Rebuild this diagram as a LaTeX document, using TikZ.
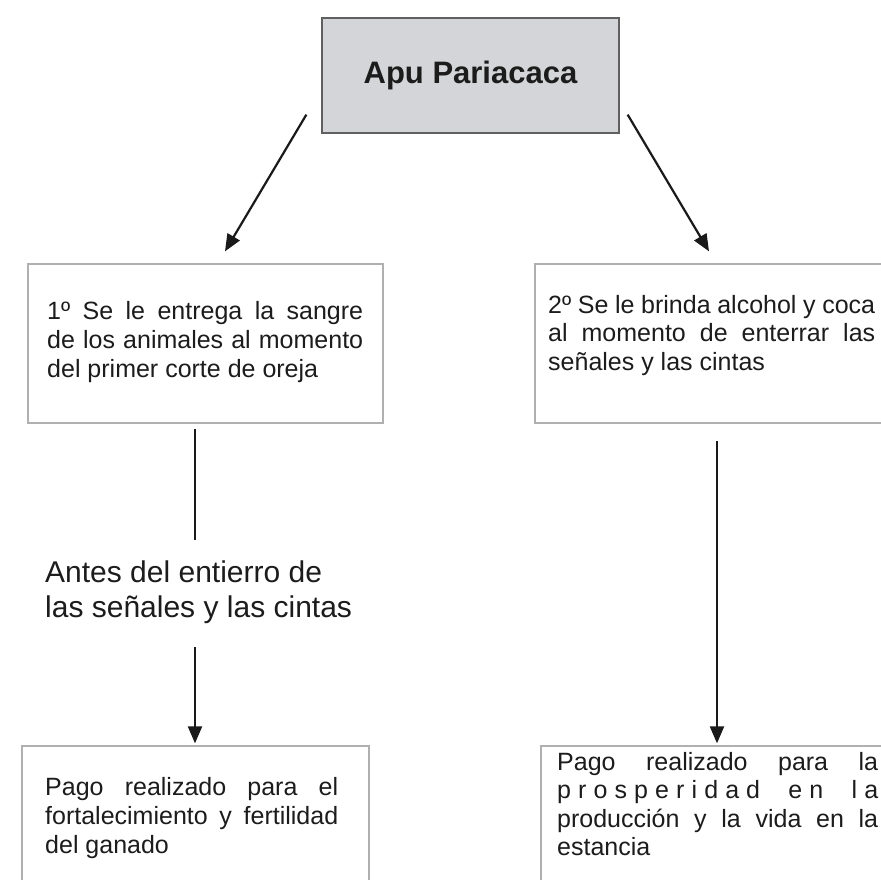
\documentclass[tikz,border=0pt]{standalone}
\usepackage{fontspec}
\setmainfont{Liberation Sans}
\usetikzlibrary{arrows.meta,calc}
\definecolor{titlefill}{HTML}{D4D5D8}
\definecolor{titleborder}{HTML}{606060}
\definecolor{boxgray}{HTML}{B0B0B0}
\definecolor{txtcol}{HTML}{1C1C1C}
\definecolor{arrowcol}{HTML}{1A1A1A}
\begin{document}
\begin{tikzpicture}[x=1pt,y=-1pt,
  boxstyle/.style={draw=boxgray, line width=1.3pt, rectangle, inner sep=0pt},
  txtstyle/.style={anchor=base west, inner sep=0pt, text=txtcol},
  conn/.style={draw=arrowcol, line width=2.2pt},
  arr/.style={conn, -{Triangle[length=17pt,width=14pt]}}]
\useasboundingbox (0,0) rectangle (881,879);
\clip (0,0) rectangle (881,879);
\fill[white] (0,0) rectangle (881,879);

% boxes
\node[boxstyle, draw=titleborder, fill=titlefill, minimum width=297pt, minimum height=115pt, text=txtcol,
      font=\fontsize{31}{37}\selectfont\bfseries] (title) at (470.5,75.5) {Apu Pariacaca};
\node[boxstyle, minimum width=355pt, minimum height=159pt] (box1) at (205.5,343.5) {};
\node[boxstyle, minimum width=355pt, minimum height=159pt] (box2) at (712.5,343.5) {};
\node[boxstyle, minimum width=347pt, minimum height=164pt] (box3) at (195.5,828) {};
\node[boxstyle, minimum width=359pt, minimum height=164pt] (box4) at (720.5,828) {};

% texts
\node[txtstyle] (t1) at (47,319) {\vtop{\hsize=316pt\fontsize{25}{29.3}\selectfont
  \hbox to\hsize{1º Se le entrega la sangre}
  \hbox to\hsize{de los animales al momento}
  \hbox{del primer corte de oreja}}};
\node[txtstyle] (t2) at (548,313) {\vtop{\hsize=327pt\fontsize{25}{28.5}\selectfont
  \hbox to\hsize{2º Se le brinda alcohol y coca}
  \hbox to\hsize{al momento de enterrar las}
  \hbox{señales y las cintas}}};
\node[txtstyle] (t3) at (45,795) {\vtop{\hsize=293pt\fontsize{25}{29}\selectfont
  \hbox to\hsize{Pago realizado para el}
  \hbox to\hsize{fortalecimiento y fertilidad}
  \hbox{del ganado}}};
\node[txtstyle] (t4) at (557,770) {\vtop{\hsize=321pt\fontsize{25}{28.5}\selectfont
  \hbox to\hsize{Pago realizado para la}
  \hbox to\hsize{p\hfil r\hfil o\hfil s\hfil p\hfil e\hfil r\hfil i\hfil d\hfil a\hfil d\hskip 0.28em plus 3fil\relax e\hfil n\hskip 0.28em plus 3fil\relax l\hfil a}
  \hbox to\hsize{producción y la vida en la}
  \hbox{estancia}}};
\node[txtstyle] (lab) at (45,582) {\vtop{\hsize=330pt\fontsize{30}{35}\selectfont
  \hbox{Antes del entierro de}
  \hbox{las señales y las cintas}}};

% connector coordinates
\coordinate (s1) at (195,429);
\coordinate (e1) at (195,540);
\coordinate (s2) at (195,647);
\coordinate (s3) at (717,441);

% connectors
\draw[arr] ([xshift=-15pt,yshift=19pt]title.south west) -- ([xshift=19.5pt,yshift=12pt]box1.north);
\draw[arr] ([xshift=8pt,yshift=19pt]title.south east) -- ([xshift=-3.5pt,yshift=12pt]box2.north);
\draw[conn] (s1) -- (e1);
\draw[arr, shorten >=2pt] (s2) -- (s2 |- box3.north);
\draw[arr, shorten >=2pt] (s3) -- (s3 |- box4.north);
\end{tikzpicture}
\end{document}
